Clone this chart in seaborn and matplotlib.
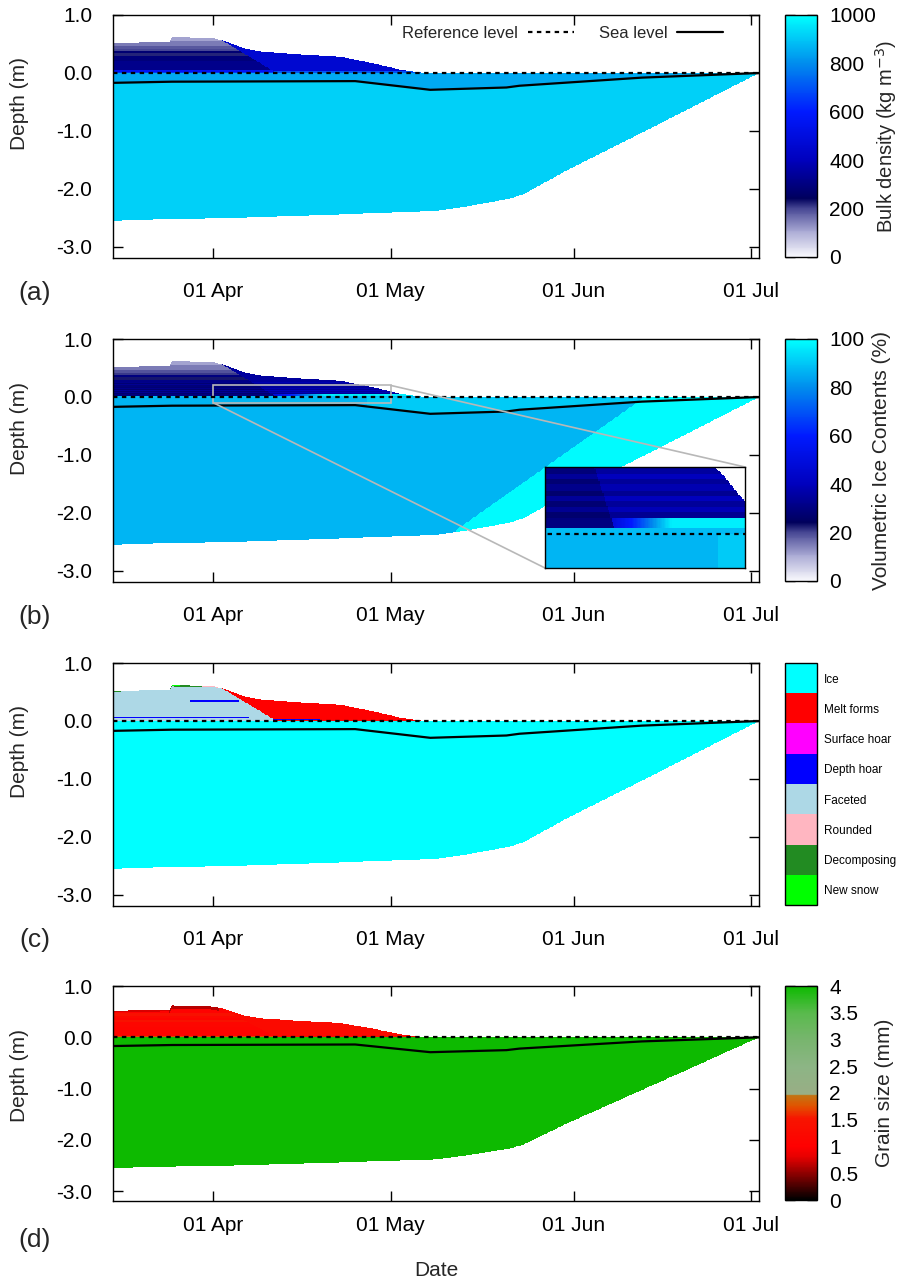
import numpy as np
import pandas as pd
import matplotlib
matplotlib.use("Agg")
import matplotlib.pyplot as plt
import matplotlib.dates as mdates
import seaborn as sns
from matplotlib.colors import LinearSegmentedColormap, ListedColormap, BoundaryNorm, Normalize
from mpl_toolkits.axes_grid1.inset_locator import mark_inset

sns.set_theme(style="ticks")
plt.rcParams["font.family"] = ["Liberation Sans", "DejaVu Sans"]
plt.rcParams["axes.unicode_minus"] = False

# ---------------- data ----------------
start = pd.Timestamp("2018-03-15")
end_day = 109.4                      # days after 15 Mar (≈ 2 Jul)

snow_top_day = [0, 7, 9.5, 10, 17, 19, 22, 25, 31.6, 38.4, 44, 48.5, 52, 53, 109.4]
snow_top_m   = [0.52, 0.53, 0.54, 0.62, 0.60, 0.55, 0.43, 0.37, 0.32, 0.28, 0.17, 0.06, 0.01, 0.0, 0.0]

ice_bot_day = [0, 5, 20, 35, 54.5, 60, 67, 69.5, 77, 93, 109.4]
ice_bot_m   = [-2.55, -2.53, -2.50, -2.45, -2.38, -2.30, -2.17, -2.09, -1.67, -0.85, 0.0]

sea_day = [0, 10, 41, 53.7, 66.6, 68.8, 89.5, 109.4]
sea_m   = [-0.17, -0.15, -0.14, -0.29, -0.25, -0.22, -0.08, 0.0]

melt_front_day = [17.5, 27.7]
melt_front_m   = [0.62, 0.0]

snow_edges_m     = [0, 0.02, 0.05, 0.2, 0.3, 0.34, 0.38, 0.42, 0.47, 0.56, 0.75]
snow_density     = [650, 560, 320, 290, 220, 280, 200, 185, 150, 110]
snow_ice_content = [88, 30, 33, 31, 23, 30, 21, 19, 15, 11]
snow_grain       = [1.7, 1.2, 1.1, 1.15, 1.45, 1.1, 1.2, 1.45, 1.05, 0.95]

# thin layering inside the lower snow (panel b)
stripe_edges_m       = [0.05, 0.065, 0.08, 0.1, 0.115, 0.13, 0.15, 0.165, 0.18, 0.2, 0.22, 0.24, 0.26]
stripe_ic_pre        = [27, 33, 28, 34, 27, 32, 28, 34, 29, 33, 28, 32]
stripe_ic_melted     = [33, 39, 34, 40, 33, 38, 34, 40, 35, 39, 34, 38]

melted_density, melted_base_density = 460, 700
melted_ice_content, melted_base_ice_content = 35, 88
base_band_day = [24, 30, 36]
base_band_ice_content = [33, 60, 97]
melted_grain, melted_base_grain = 1.25, 1.7
ice_density_freeboard, ice_density = 850, 915
ice_content, ice_content_freeboard_late, ice_content_drained = 87, 91, 99
drained_front_day = [58, 90]
drained_front_m   = [-2.3, 0.0]
ice_grain = 4.0

grain_types = ["New snow", "Decomposing", "Rounded", "Faceted",
               "Depth hoar", "Surface hoar", "Melt forms", "Ice"]
grain_type_colors = ["#00ff00", "#228b22", "#ffb6c1", "#add8e6",
                     "#0000ff", "#ff00ff", "#ff0000", "#00ffff"]

tick_dates = ["2018-04-01", "2018-05-01", "2018-06-01", "2018-07-01"]
y_ticks = [1.0, 0.0, -1.0, -2.0, -3.0]
y_ticklabels = ["1.0", "0.0", "-1.0", "-2.0", "-3.0"]

# ---------------- build gridded fields ----------------
dt, dz = 0.2, 0.0025
t_edges = np.arange(0, end_day + dt / 2, dt)
z_edges = np.arange(-3.2, 1.0 + dz / 2, dz)
t_c = 0.5 * (t_edges[:-1] + t_edges[1:])
z_c = 0.5 * (z_edges[:-1] + z_edges[1:])
T, Z = np.meshgrid(t_c, z_c)

top = np.interp(T, snow_top_day, snow_top_m)
bot = np.interp(T, ice_bot_day, ice_bot_m)
sea = np.interp(T, sea_day, sea_m)
mf = np.interp(T, melt_front_day, melt_front_m, left=10, right=-10)
ice = (Z <= 0) & (Z > bot)
snow = (Z > 0) & (Z <= top)
melted = Z > mf
lay = np.clip(np.searchsorted(snow_edges_m, Z, side="right") - 1, 0, len(snow_density) - 1)
in_stripes = (Z >= stripe_edges_m[0]) & (Z < stripe_edges_m[-1])
st = np.clip(np.searchsorted(stripe_edges_m, Z, side="right") - 1, 0, len(stripe_ic_pre) - 1)

rho = np.full(T.shape, np.nan)
rho[ice] = np.where(Z > sea, ice_density_freeboard, ice_density)[ice]
rho_snow = np.where(melted, np.where(Z < 0.035, melted_base_density, melted_density),
                    np.array(snow_density)[lay])
rho[snow] = rho_snow[snow]

tb = np.interp(Z, drained_front_m, drained_front_day)
ic = np.full(T.shape, np.nan)
ic_ice = np.where((Z > sea) & (T > 43), ice_content_freeboard_late, ice_content)
ic_ice = np.where(T > tb, ice_content_drained, ic_ice)
ic[ice] = ic_ice[ice]
base_ramp = np.interp(T, base_band_day, base_band_ice_content)
ic_melt = np.where(Z < 0.02, melted_base_ice_content,
                   np.where(Z < 0.05, base_ramp,
                            np.where(in_stripes, np.array(stripe_ic_melted)[st], melted_ice_content)))
ic_pre = np.where(in_stripes, np.array(stripe_ic_pre)[st], np.array(snow_ice_content)[lay])
ic_snow = np.where(melted, ic_melt, ic_pre)
ic[snow] = ic_snow[snow]

gt = np.full(T.shape, np.nan)
gt[ice] = 7
gt_snow = np.where(melted, 6, 3).astype(float)
gt_snow = np.where((~melted) & (Z > 0.33) & (Z < 0.36) & (T > 13) & (T < 21.5), 4, gt_snow)
gt_snow = np.where((~melted) & (Z > 0.06) & (Z < 0.075) & (T < 23), 4, gt_snow)
gt_snow = np.where((Z > 0.012) & (Z < 0.03) & (T > 27) & (T < 35), 4, gt_snow)
gt_snow = np.where((Z > top - 0.025) & (T > 9.5) & (T < 15), 1, gt_snow)
gt_snow = np.where((Z > top - 0.015) & (T > 10) & (T < 11.5), 0, gt_snow)
gt_snow = np.where((Z > top - 0.012) & (T > 15) & (T < 18), 2, gt_snow)
gt_snow = np.where((Z > top - 0.02) & (T < 1.5), 1, gt_snow)
gt[snow] = gt_snow[snow]

gs = np.full(T.shape, np.nan)
gs[ice] = ice_grain
gs_snow = np.where(melted, np.where(Z < 0.015, melted_base_grain, melted_grain),
                   np.array(snow_grain)[lay])
gs_snow = np.where((~melted) & (Z > top - 0.03) & (T < 9.5), 0.75, gs_snow)
gs_snow = np.where((~melted) & (Z > top - 0.06) & (T >= 9.5) & (T < 18), 0.65, gs_snow)
gs[snow] = gs_snow[snow]

# ---------------- colormaps ----------------
dens_cmap = LinearSegmentedColormap.from_list("dens", [
    (0.0, (0.97, 0.97, 0.99)), (0.1, (0.68, 0.68, 0.84)), (0.2, (0.28, 0.28, 0.58)),
    (0.24, (0.0, 0.0, 0.36)), (0.4, (0.0, 0.0, 0.74)), (0.6, (0.0, 0.1, 1.0)),
    (0.8, (0.0, 0.55, 0.93)), (1.0, (0.0, 1.0, 1.0))])
grain_cmap = LinearSegmentedColormap.from_list("grain", [
    (0.0, (0, 0, 0)), (0.1, (0.45, 0, 0)), (0.2, (0.9, 0, 0)), (0.25, (1, 0, 0)),
    (0.38, (0.97, 0.08, 0)), (0.44, (0.88, 0.33, 0)), (0.49, (0.76, 0.46, 0.08)),
    (0.495, (0.6, 0.68, 0.52)), (0.625, (0.55, 0.71, 0.52)), (0.75, (0.47, 0.71, 0.43)),
    (0.875, (0.35, 0.73, 0.3)), (1.0, (0.05, 0.73, 0.0))])
type_cmap = ListedColormap(grain_type_colors)
type_norm = BoundaryNorm(np.arange(9), 8)

# ---------------- figure ----------------
W, H = 901, 1283
fig = plt.figure(figsize=(W / 100, H / 100), dpi=100)


def pax(l, t, r, b):
    return fig.add_axes([l / W, 1 - b / H, (r - l) / W, (b - t) / H])


x0 = mdates.date2num(start)
x_edges = x0 + t_edges
FS = 15

panels = [
    ("a", 15, 258, rho, dens_cmap, Normalize(0, 1000)),
    ("b", 339, 582, ic, dens_cmap, Normalize(0, 100)),
    ("c", 663, 906, gt, type_cmap, type_norm),
    ("d", 986, 1201, gs, grain_cmap, Normalize(0, 4)),
]
label_x = {"a": 886, "b": 882, "d": 885}
panel_label_y = {"a": 293, "b": 617, "c": 940, "d": 1240}
axes = {}
for name, t_px, b_px, field, cmap, norm in panels:
    ax = pax(113, t_px, 759, b_px)
    axes[name] = ax
    mesh = ax.pcolormesh(x_edges, z_edges, field, cmap=cmap, norm=norm, shading="flat")
    sns.lineplot(x=[x0, x0 + end_day], y=[0, 0], color="black", lw=1.6,
                 linestyle=(0, (2, 2)), ax=ax,
                 label="Reference level" if name == "a" else None)
    sns.lineplot(x=x0 + np.array(sea_day), y=sea_m, color="black", lw=1.6, ax=ax,
                 label="Sea level" if name == "a" else None)
    ax.set_xlim(x0, x0 + 109.35)
    ax.set_ylim(-3.19, 1.0)
    ax.set_yticks(y_ticks)
    ax.set_yticklabels(y_ticklabels)
    ax.set_xticks([mdates.date2num(pd.Timestamp(d)) for d in tick_dates])
    ax.xaxis.set_major_formatter(mdates.DateFormatter("%d %b"))
    ax.tick_params(axis="both", direction="in", top=True, right=True, length=7,
                   width=1, labelsize=FS, colors="black")
    ax.tick_params(axis="x", pad=(11 if name == "d" else 17))
    ax.tick_params(axis="y", pad=15)
    ax.set_xlabel("")
    ax.set_ylabel("")
    for s in ax.spines.values():
        s.set_color("black")
        s.set_linewidth(1.0)
    fig.text(20 / W, 1 - (t_px + 89) / H, "Depth (m)", rotation=90, ha="center",
             va="center", fontsize=FS)
    fig.text(35 / W, 1 - panel_label_y[name] / H, f"({name})",
             ha="center", va="center", fontsize=19)

    cax = pax(785, t_px, 817, b_px - 1)
    cb = fig.colorbar(mesh, cax=cax)
    cb.outline.set_edgecolor("black")
    cb.outline.set_linewidth(1.0)
    if name == "a":
        cb.set_ticks([0, 200, 400, 600, 800, 1000])
        cb.set_label("Bulk density (kg m$^{-3}$)", fontsize=14.5)
    elif name == "b":
        cb.set_ticks([0, 20, 40, 60, 80, 100])
        cb.set_label("Volumetric Ice Contents (%)", fontsize=FS)
    elif name == "c":
        cb.set_ticks(np.arange(8) + 0.5)
        cb.set_ticklabels(grain_types)
    else:
        cb.set_ticks([0, 0.5, 1, 1.5, 2, 2.5, 3, 3.5, 4])
        cb.set_ticklabels(["0", "0.5", "1", "1.5", "2", "2.5", "3", "3.5", "4"])
        cb.set_label("Grain size (mm)", fontsize=FS)
    if name in label_x:
        cb.ax.yaxis.set_label_coords((label_x[name] - 785) / 32, 0.5)
        cb.ax.yaxis.label.set_verticalalignment("center")
    cb.ax.tick_params(which="both", direction="in", left=True, right=True, length=7,
                      width=1, colors="black", labelsize=(8.5 if name == "c" else FS),
                      pad=(5 if name == "c" else 9))
    cb.ax.minorticks_off()

# legend on panel (a)
axa = axes["a"]
handles, labels = axa.get_legend_handles_labels()
axa.legend(handles, labels, ncol=2, markerfirst=False, frameon=False, fontsize=12,
           loc="center right", bbox_to_anchor=((723 - 113) / 646, (258 - 33) / 243),
           borderaxespad=0, borderpad=0, handlelength=2.75, handletextpad=0.6,
           columnspacing=1.5)

# inset on panel (b)
axb = axes["b"]
axins = pax(545, 467, 745, 568)
axins.pcolormesh(x_edges, z_edges, ic, cmap=dens_cmap, norm=Normalize(0, 100), shading="flat")
sns.lineplot(x=[x0, x0 + end_day], y=[0, 0], color="black", lw=1.6,
             linestyle=(0, (2, 2)), ax=axins)
sns.lineplot(x=x0 + np.array(sea_day), y=sea_m, color="black", lw=1.6, ax=axins)
axins.set_xlim(mdates.date2num(pd.Timestamp("2018-04-01")), mdates.date2num(pd.Timestamp("2018-05-01")))
axins.set_ylim(-0.1, 0.2)
axins.set_xticks([])
axins.set_yticks([])
axins.set_xlabel("")
axins.set_ylabel("")
for s in axins.spines.values():
    s.set_color("black")
    s.set_linewidth(1.0)
mark_inset(axb, axins, loc1=1, loc2=3, fc="none", ec="0.72", lw=1.2)

fig.text(436 / W, 1 - 1271 / H, "Date", ha="center", va="center", fontsize=FS)

fig.savefig("out.png", dpi=100)
